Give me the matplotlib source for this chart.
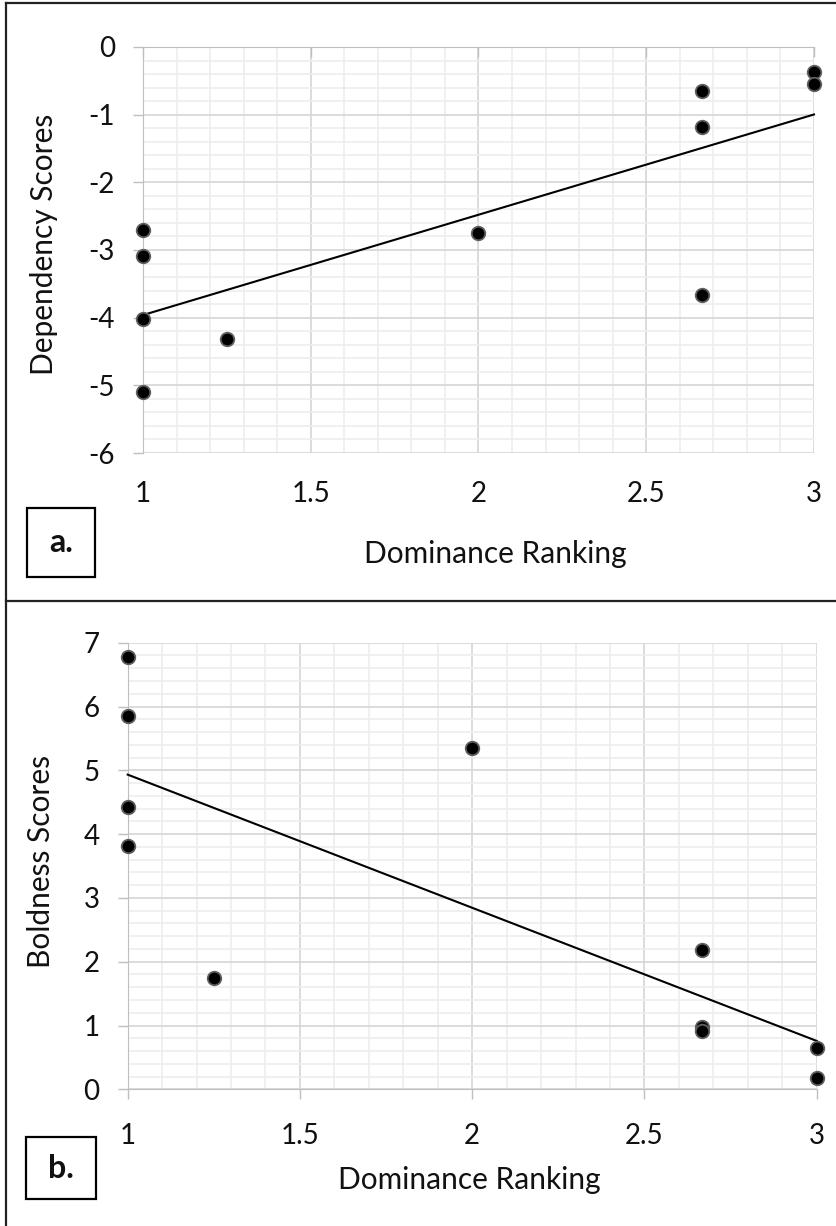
import numpy as np
import matplotlib
matplotlib.use("Agg")
import matplotlib.pyplot as plt
from matplotlib.ticker import MultipleLocator, FormatStrFormatter
from matplotlib.lines import Line2D
from matplotlib.patches import Rectangle

plt.rcParams['font.family'] = ['Lato', 'DejaVu Sans']
plt.rcParams['axes.unicode_minus'] = False

# ---- data ----
dominance_a = [1, 1, 1, 1, 1.25, 2, 2.667, 2.667, 2.667, 3, 3]
dependency = [-2.70, -3.09, -4.02, -5.10, -4.31, -2.75, -0.65, -1.18, -3.66, -0.37, -0.55]

dominance_b = [1, 1, 1, 1, 1.25, 2, 2.667, 2.667, 2.667, 3, 3]
boldness = [6.78, 5.85, 4.42, 3.81, 1.74, 5.35, 2.19, 0.97, 0.92, 0.65, 0.18]

x_label = "Dominance Ranking"
y_label_a = "Dependency Scores"
y_label_b = "Boldness Scores"
panel_labels = ["a.", "b."]

W, H = 837, 1226
fig = plt.figure(figsize=(W / 100, H / 100), dpi=100)

def px_axes(l, t, r, b):
    return fig.add_axes([l / W, 1 - b / H, (r - l) / W, (b - t) / H])

MAJ = '#d6d6d6'
MIN = '#ededed'
AX = '#bfbfbf'
FS = 20
LFS = 21.5

def style(ax, ymin, ymax):
    ax.set_xlim(1, 3)
    ax.set_ylim(ymin, ymax)
    ax.xaxis.set_major_locator(MultipleLocator(0.5))
    ax.xaxis.set_minor_locator(MultipleLocator(0.1))
    ax.yaxis.set_major_locator(MultipleLocator(1))
    ax.yaxis.set_minor_locator(MultipleLocator(0.2))
    ax.xaxis.set_major_formatter(FormatStrFormatter('%g'))
    ax.yaxis.set_major_formatter(FormatStrFormatter('%g'))
    ax.grid(which='minor', color=MIN, lw=1.2, zorder=0)
    ax.grid(which='major', color=MAJ, lw=1.2, zorder=0)
    ax.set_axisbelow(True)
    for s in ax.spines.values():
        s.set_visible(False)
    ax.tick_params(axis='both', which='minor', length=0)
    ax.tick_params(axis='y', which='major', direction='out', length=7.2, width=1.0,
                   color=AX, labelsize=FS, pad=13, labelcolor='#111111')

def draw(ax, xs, ys):
    xs = np.asarray(xs); ys = np.asarray(ys)
    k, c = np.polyfit(xs, ys, 1)
    xl = np.array([1.0, 3.0])
    ax.plot(xl, k * xl + c, color='black', lw=1.5, zorder=3, clip_on=False)
    ax.scatter(xs, ys, s=95, facecolor='black', edgecolor='#606060', linewidth=1.3,
               zorder=4, clip_on=False)

# ---- panel a ----
axa = px_axes(143, 47, 814, 453)
style(axa, -6, 0)
axa.spines['left'].set_visible(True); axa.spines['left'].set_color(AX)
axa.spines['top'].set_visible(True); axa.spines['top'].set_color(AX)
axa.tick_params(axis='x', which='major', top=True, bottom=False, labeltop=False,
                labelbottom=True, direction='in', length=7.2, width=1.0, color=AX,
                labelsize=FS, pad=20, labelcolor='#111111')
draw(axa, dominance_a, dependency)

# ---- panel b ----
axb = px_axes(127.7, 642.7, 816.7, 1089.3)
style(axb, 0, 7)
axb.spines['left'].set_visible(True); axb.spines['left'].set_color(AX)
axb.spines['bottom'].set_visible(True); axb.spines['bottom'].set_color(AX)
axb.tick_params(axis='x', which='major', direction='out', length=7.2, width=1.0,
                color=AX, labelsize=FS, pad=17, labelcolor='#111111')
draw(axb, dominance_b, boldness)

# ---- axis labels (figure-placed) ----
def ftext(x, y, s, **kw):
    fig.text(x / W, 1 - y / H, s, **kw)

ftext(495, 554, x_label, ha='center', va='center', fontsize=LFS, color='#111111')
ftext(469, 1180, x_label, ha='center', va='center', fontsize=LFS, color='#111111')
ftext(44, 244, y_label_a, ha='center', va='center', rotation=90, fontsize=LFS, color='#111111')
ftext(41, 862, y_label_b, ha='center', va='center', rotation=90, fontsize=LFS, color='#111111')

# ---- panel label boxes ----
for (l, t, r, b), lab in zip([(27, 508, 95, 577), (26, 1137, 96, 1199)], panel_labels):
    fig.patches.append(Rectangle((l / W, 1 - b / H), (r - l) / W, (b - t) / H,
                                 transform=fig.transFigure, fill=False, ec='black', lw=1.6))
    ftext((l + r) / 2, (t + b) / 2, lab, ha='center', va='center', fontsize=23,
          fontweight='bold', color='#111111')

# ---- outer borders ----
def fline(x0, y0, x1, y1, lw=1.6):
    fig.add_artist(Line2D([x0 / W, x1 / W], [1 - y0 / H, 1 - y1 / H], color='#222222',
                          lw=lw, transform=fig.transFigure))

fline(6, 3, 837, 3)
fline(6, 3, 6, 1226)
fline(6, 601, 837, 601)

fig.savefig('out.png', dpi=100, facecolor='white')
